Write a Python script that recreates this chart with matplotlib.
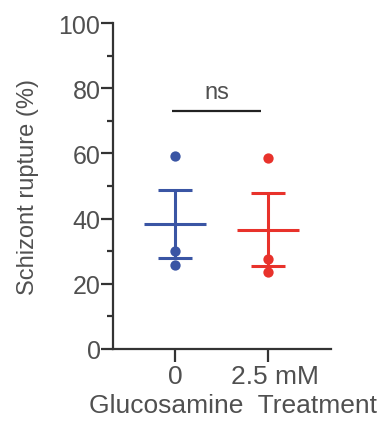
import numpy as np
import matplotlib.pyplot as plt
import matplotlib.transforms as mtransforms

# Schizont rupture (%) per replicate
groups = ["0", "2.5 mM"]
control_vals = [59.2, 30.2, 25.7]
glucosamine_vals = [58.7, 27.5, 23.7]
colors = ["#3a55a4", "#e8322b"]
sig_label = "ns"
sig_height = 73

plt.rcParams['font.family'] = ['Liberation Sans', 'DejaVu Sans']
text_color = "#505050"

fig = plt.figure(figsize=(3.82, 4.27), dpi=100)
ax = fig.add_axes([113/382, 1-350/427, (331-113)/382, (350-24)/427])

for i, (vals, c) in enumerate(zip([control_vals, glucosamine_vals], colors)):
    vals = np.asarray(vals)
    mean = vals.mean()
    sem = vals.std(ddof=1) / np.sqrt(len(vals))
    ax.scatter(np.full(len(vals), i), vals, s=55, color=c, zorder=3, linewidths=0)
    ax.hlines(mean, i - 0.33, i + 0.33, color=c, lw=2.2)
    ax.vlines(i, mean - sem, mean + sem, color=c, lw=2.2)
    ax.hlines([mean - sem, mean + sem], i - 0.18, i + 0.18, color=c, lw=2.2)

# significance bar
ax.hlines(sig_height, -0.03, 0.92, color="#222222", lw=1.6)
ax.text(0.445, sig_height + 2.6, sig_label, ha="center", va="bottom",
        fontsize=17, color=text_color)

ax.set_xlim(-0.667, 1.677)
ax.set_ylim(0, 100)
for s in ["top", "right"]:
    ax.spines[s].set_visible(False)
for s in ["left", "bottom"]:
    ax.spines[s].set_linewidth(1.6)
    ax.spines[s].set_color("#333333")

ax.set_yticks(np.arange(0, 101, 20))
ax.set_yticks(np.arange(10, 100, 20), minor=True)
ax.set_xticks([0, 1])
ax.set_xticklabels(groups)
ax.tick_params(axis="y", which="major", length=9, width=1.6, color="#333333",
               pad=0, labelsize=18, labelcolor=text_color)
ax.tick_params(axis="y", which="minor", length=4, width=1.6, color="#333333")
ax.tick_params(axis="x", length=9, width=1.6, color="#333333", pad=2,
               labelsize=19, labelcolor=text_color)

lbl = ax.get_xticklabels()[1]
lbl.set_transform(lbl.get_transform() +
                  mtransforms.ScaledTranslation(7/100, 0, fig.dpi_scale_trans))

ax.set_ylabel("Schizont rupture (%)", fontsize=17, color=text_color, labelpad=14)
fig.text(233/382, 1-406/427, "Glucosamine  Treatment", ha="center", va="center",
         fontsize=19, color=text_color)

fig.savefig("out.png", dpi=100)
